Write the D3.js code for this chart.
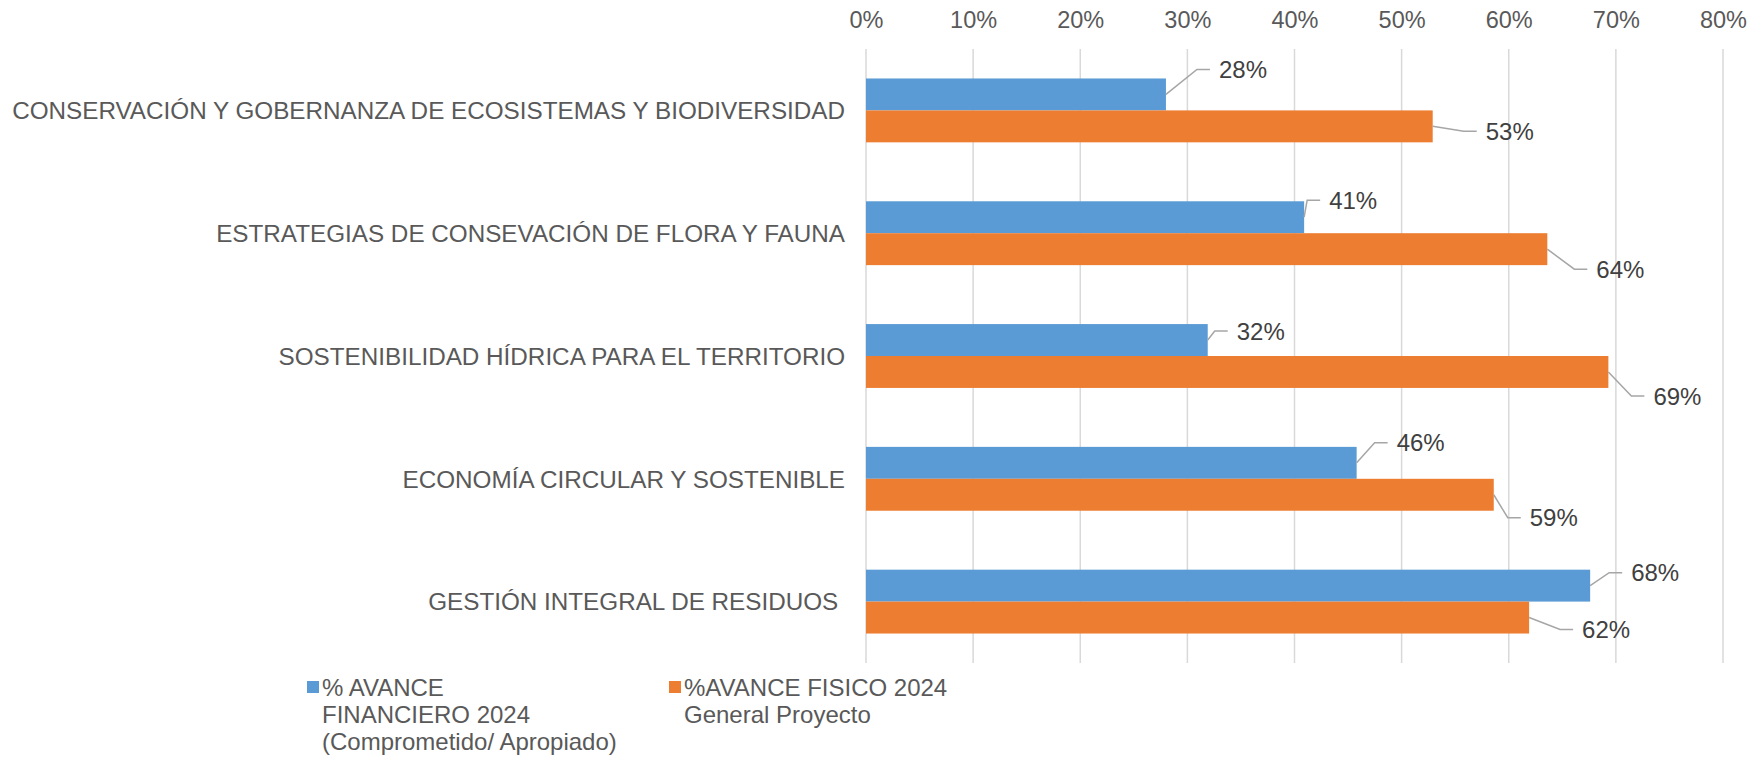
<!DOCTYPE html>
<html>
<head>
<meta charset="utf-8">
<script src="https://cdn.jsdelivr.net/npm/d3@7"></script>
<style>
  html, body { margin: 0; padding: 0; background: #ffffff; }
  svg { display: block; }
  text { font-family: "Liberation Sans", Arial, sans-serif; }
</style>
</head>
<body>
<svg id="chart" width="1755" height="757"></svg>
<script>
// ---------- data ----------
const categories = [
  "CONSERVACIÓN Y GOBERNANZA DE ECOSISTEMAS Y BIODIVERSIDAD",
  "ESTRATEGIAS DE CONSEVACIÓN DE FLORA Y FAUNA",
  "SOSTENIBILIDAD HÍDRICA PARA EL TERRITORIO",
  "ECONOMÍA CIRCULAR Y SOSTENIBLE",
  "GESTIÓN INTEGRAL DE RESIDUOS "
];
const avanceFinanciero = [28.0, 40.9, 31.9, 45.8, 67.6];
const avanceFisico = [52.9, 63.6, 69.3, 58.6, 61.9];
const tickValues = [0, 10, 20, 30, 40, 50, 60, 70, 80];
const seriesNames = ["% AVANCE FINANCIERO 2024 (Comprometido/ Apropiado)", "%AVANCE FISICO 2024 General Proyecto"];
const legendLines = [
  ["% AVANCE", "FINANCIERO 2024", "(Comprometido/ Apropiado)"],
  ["%AVANCE FISICO 2024", "General Proyecto"]
];

// ---------- layout (kept separate from data) ----------
const colors = ["#5B9BD5", "#ED7D31"];
const plot = { left: 866, right: 1723, top: 49, bottom: 663 };
// data-label nudges [dx to text start, dy of text centre] relative to bar end/middle
const labelNudge = [
  [[53, -25], [25, -17], [29, -9], [40, -20], [41, -13]],
  [[53, 5], [49, 20], [45, 24], [36, 23], [53, 12]]
];

const svg = d3.select("#chart");

const x = d3.scaleLinear().domain([0, 80]).range([plot.left, plot.right]);
const y = d3.scaleBand().domain(categories).range([plot.top, plot.bottom])
  .paddingInner(0.48).paddingOuter(0.24);
const ySub = d3.scaleBand().domain([0, 1]).range([0, y.bandwidth()]);

// gridlines
svg.append("g").selectAll("line").data(tickValues).join("line")
  .attr("x1", d => x(d)).attr("x2", d => x(d))
  .attr("y1", plot.top).attr("y2", plot.bottom)
  .attr("stroke", "#d9d9d9").attr("stroke-width", 1.5);

// top axis labels
const axis = d3.axisTop(x).tickValues(tickValues).tickFormat(d => d + "%").tickSize(0).tickPadding(0);
const gAxis = svg.append("g").attr("transform", "translate(0,28)").call(axis);
gAxis.select(".domain").remove();
gAxis.selectAll("text")
  .attr("font-size", 23.5).attr("fill", "#595959")
  .attr("font-family", "Liberation Sans, Arial, sans-serif")
  .attr("dy", 0);

// category labels
svg.append("g").selectAll("text").data(categories).join("text")
  .attr("x", 845)
  .attr("y", d => y(d) + y.bandwidth() / 2)
  .attr("dy", "0.36em")
  .attr("text-anchor", "end")
  .attr("font-size", 24.25)
  .attr("fill", "#595959")
  .style("white-space", "pre")
  .text(d => d);

// bars
const series = [avanceFinanciero, avanceFisico];
series.forEach((vals, si) => {
  const g = svg.append("g");
  g.selectAll("rect").data(vals).join("rect")
    .attr("x", x(0))
    .attr("y", (d, i) => y(categories[i]) + ySub(si))
    .attr("width", d => x(d) - x(0))
    .attr("height", ySub.bandwidth())
    .attr("fill", colors[si]);

  // leader lines + labels
  const fmt = d3.format(".0f");
  vals.forEach((v, i) => {
    const bx = x(v);
    const by = y(categories[i]) + ySub(si) + ySub.bandwidth() / 2;
    const [dx, dy] = labelNudge[si][i];
    const pts = [[bx, by], [bx + dx - 22, by + dy], [bx + dx - 9, by + dy]];
    g.append("path")
      .attr("d", d3.line()(pts))
      .attr("fill", "none")
      .attr("stroke", "#a6a6a6")
      .attr("stroke-width", 1.5);
    g.append("text")
      .attr("x", bx + dx)
      .attr("y", by + dy)
      .attr("dy", "0.36em")
      .attr("font-size", 24)
      .attr("fill", "#404040")
      .text(fmt(v) + "%");
  });
});

// legend
const legendPos = [[307, 322], [669, 684]];
legendLines.forEach((lines, si) => {
  const g = svg.append("g");
  g.append("rect")
    .attr("x", legendPos[si][0]).attr("y", 681)
    .attr("width", 12).attr("height", 12)
    .attr("fill", colors[si]);
  g.selectAll("text").data(lines).join("text")
    .attr("x", legendPos[si][1])
    .attr("y", (d, i) => 687 + i * 27)
    .attr("dy", "0.36em")
    .attr("font-size", 24)
    .attr("fill", "#595959")
    .text(d => d);
});
</script>
</body>
</html>
